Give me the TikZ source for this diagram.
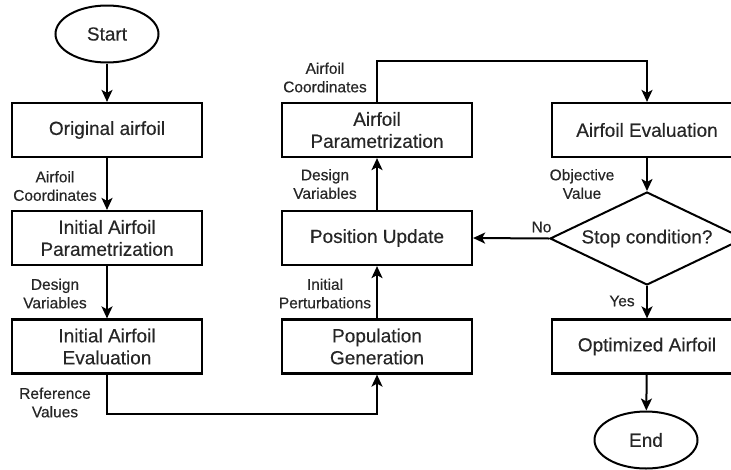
\documentclass[tikz,border=0pt]{standalone}
\usepackage{fontspec}
\setmainfont{Liberation Sans}
\newfontfamily\heavyfont{Liberation Sans}[FakeBold=0.35]
\usetikzlibrary{shapes.geometric,arrows.meta}
\definecolor{txt}{HTML}{262626}
\begin{document}
\begin{tikzpicture}[x=1pt,y=-1pt,
  procbox/.style={draw, line width=2.2pt, minimum width=190pt, minimum height=54pt, inner sep=0pt, align=center, font=\heavyfont\fontsize{19}{22}\selectfont, text=txt},
  term/.style={draw, ellipse, line width=2pt, minimum width=103pt, minimum height=57pt, inner sep=0pt, font=\heavyfont\fontsize{19}{22}\selectfont, text=txt},
  decision/.style={draw, diamond, aspect=2.08, line width=2pt, minimum width=194pt, minimum height=93pt, inner sep=0pt, font=\heavyfont\fontsize{19}{22}\selectfont, text=txt},
  lbl/.style={align=center, font=\heavyfont\fontsize{15.5}{18.5}\selectfont, text=txt, inner sep=0pt},
  flow/.style={line width=2pt, -{Stealth[length=12pt,width=11pt,inset=3pt]}}
]
\useasboundingbox (0,0) rectangle (731,469);
\clip (0,0) rectangle (731,469);

% left column
\node[term] (start) at (107,34) {Start};
\node[procbox] (orig) at (107,130) {Original airfoil};
\node[procbox] (iparam) at (107,238) {Initial Airfoil\\Parametrization};
\node[procbox] (ieval) at (107,346.5) {Initial Airfoil\\Evaluation};

% middle column
\node[procbox] (aparam) at (377,130) {Airfoil\\Parametrization};
\node[procbox] (posup) at (377,238) {Position Update};
\node[procbox] (popgen) at (377,346.5) {Population\\Generation};

% right column
\node[procbox] (aeval) at (647,130) {Airfoil Evaluation};
\node[decision] (stop) at (647,238.5) {Stop condition?};
\node[procbox] (opt) at (647,346.5) {Optimized Airfoil};
\node[term] (finish) at (646,440) {End};

% labels
\node[lbl] (l1) at (55,186) {Airfoil\\Coordinates};
\node[lbl] (l2) at (55,293.5) {Design\\Variables};
\node[lbl] (l3) at (55,402.5) {Reference\\Values};
\node[lbl] (l4) at (325,293.5) {Initial\\Perturbations};
\node[lbl] (l5) at (325,184) {Design\\Variables};
\node[lbl] (l6) at (325,77.5) {Airfoil\\Coordinates};
\node[lbl] (l7) at (582,184) {Objective\\Value};
\node[lbl] (l8) at (541.5,227) {No};
\node[lbl] (l9) at (622,301) {Yes};

% connectors
\draw[flow] (start) -- (orig);
\draw[flow] (orig) -- (iparam);
\draw[flow] (iparam) -- (ieval);
\draw[flow] (ieval.south) -- ++(0,39) -| (popgen.south);
\draw[flow] (popgen) -- (posup);
\draw[flow] (posup) -- (aparam);
\draw[flow] (aparam.north) -- ++(0,-41) -| (aeval.north);
\draw[flow] (aeval) -- (stop);
\draw[flow] (stop.west) -- (posup.east);
\draw[flow] (stop) -- (opt);
\draw[flow] (opt) -- (finish);
\end{tikzpicture}
\end{document}
